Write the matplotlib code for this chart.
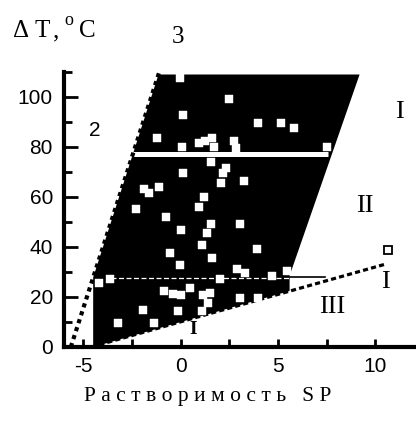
import numpy as np
import matplotlib.pyplot as plt
from matplotlib.patches import Polygon

plt.rcParams['axes.unicode_minus'] = False

W, H = 416, 428

# region boundary (black area)
region_x = [-4.5, -4.5, -1.14, 9.2, 5.6, 5.6]
region_y = [0, 27.8, 109, 109, 28.5, 22.4]

# boundary lines
line1_x = [-4.6, 10.6]
line1_y = [0, 33.3]
line2_x = [-5.65, -1.1]
line2_y = [0, 110]

# white points inside the region
pts_x = [-0.05, 0.1, -1.23, 0.92, 1.23, 1.59, 0.05, 2.51, 4.0, 5.18, 5.85, 2.72, 2.82,
         7.54, 1.69, 1.54, 2.31, 2.2, 2.05, 3.23, 0.1, -1.13, -1.64, -1.9, 1.18, 0.92,
         -2.31, -0.77, 1.54, 1.33, 0.0, 1.08, -0.56, 1.59, 3.03, 3.9, -0.05, 2.92, 3.33,
         4.67, 5.49, -3.64, 2.0, -0.87, -0.41, 0.0, 0.46, 1.13, 1.49, 1.38, 3.03, 3.95,
         -1.95, -0.15, 1.08, -3.23, -1.38, -4.2]
pts_y = [107.6, 92.8, 83.5, 81.5, 82.3, 83.5, 79.9, 99.2, 89.6, 89.6, 87.6, 82.3, 79.5,
         79.9, 80.0, 73.9, 71.5, 69.5, 65.5, 66.3, 69.5, 63.9, 61.4, 63.0, 59.8, 55.8,
         55.0, 51.8, 49.4, 45.8, 46.6, 40.6, 37.8, 35.7, 49.4, 39.4, 33.0, 31.3, 29.7,
         28.5, 30.5, 27.3, 27.3, 22.5, 21.3, 20.9, 23.7, 20.9, 21.7, 17.7, 19.7, 19.7,
         14.9, 14.5, 14.5, 9.6, 9.6, 25.7]
open_x = [10.67]
open_y = [39]

serif = 'Liberation Serif'
sans = 'Liberation Sans'

fig = plt.figure(figsize=(W / 100, H / 100), dpi=100)
ax = fig.add_axes([64 / W, 1 - 347 / H, (W - 64) / W, (347 - 72) / H])
ax.set_xlim(-6, 12.1)
ax.set_ylim(0, 110)

ax.add_patch(Polygon(np.column_stack([region_x, region_y]), closed=True,
                     facecolor='black', edgecolor='none'))
# white stripe and faint dotted line across region
ax.plot([-2.45, 7.6], [77, 77], color='white', lw=3.6, solid_capstyle='butt')
ax.plot([-3.6, 5.6], [27.7, 27.7], color='white', lw=0.9, ls=(0, (4, 2)))
ax.plot([5.6, 7.4], [28.2, 28.2], color='black', lw=1.2)

ax.plot(line2_x, line2_y, color='black', lw=3, ls=(0, (1, 1)), solid_capstyle='butt')
ax.plot(line1_x, line1_y, color='black', lw=2.3, ls=(0, (1.6, 1)))

ax.plot(pts_x, pts_y, 's', color='white', ms=5.8, mec='white', mew=0.3)
ax.plot(open_x, open_y, 's', mfc='white', mec='black', ms=5.5, mew=1.3)

for s in ['top', 'right']:
    ax.spines[s].set_visible(False)
for s in ['left', 'bottom']:
    ax.spines[s].set_linewidth(3)

ax.set_xticks([-5, 0, 5, 10])
ax.set_xticks([-2.5, 2.5, 7.5], minor=True)
ax.set_yticks([0, 20, 40, 60, 80, 100])
ax.set_yticks([10, 30, 50, 70, 90, 110], minor=True)
ax.tick_params(axis='both', which='both', direction='in', width=2)
ax.tick_params(axis='x', which='both', length=6, pad=7)
ax.tick_params(axis='y', which='major', length=10, pad=8)
ax.tick_params(axis='y', which='minor', length=6)
for lab in ax.get_xticklabels() + ax.get_yticklabels():
    lab.set_fontfamily(sans)
    lab.set_fontsize(15)


def ftext(x, y, s, va='center', **kw):
    fig.text(x / W, 1 - y / H, s, ha='center', va=va, **kw)


ftext(21, 37, 'Δ', va='baseline', fontsize=18, family=serif)
ftext(42, 37, 'T', va='baseline', fontsize=18, family=serif)
ftext(56, 37, ',', va='baseline', fontsize=18, family=serif)
ftext(69, 25, 'o', va='baseline', fontsize=13, family=serif)
ftext(87, 37, 'C', va='baseline', fontsize=18, family=serif)
ftext(178, 37, '3', fontsize=18, family=serif)
ftext(95, 131, '2', fontsize=15, family=sans)
ftext(399, 112, 'I', fontsize=19, family=serif)
ftext(365, 206, 'II', fontsize=19, family=serif)
ftext(332, 307, 'III', fontsize=19, family=serif)
ftext(385, 282, 'I', fontsize=19, family=serif)
ftext(193, 330, 'I', fontsize=14, family=serif, fontweight='bold', color='black')
ftext(208, 397, ' '.join('Растворимость') + '   S P', fontsize=15.5, family=serif)

fig.savefig('out.png', dpi=100)
